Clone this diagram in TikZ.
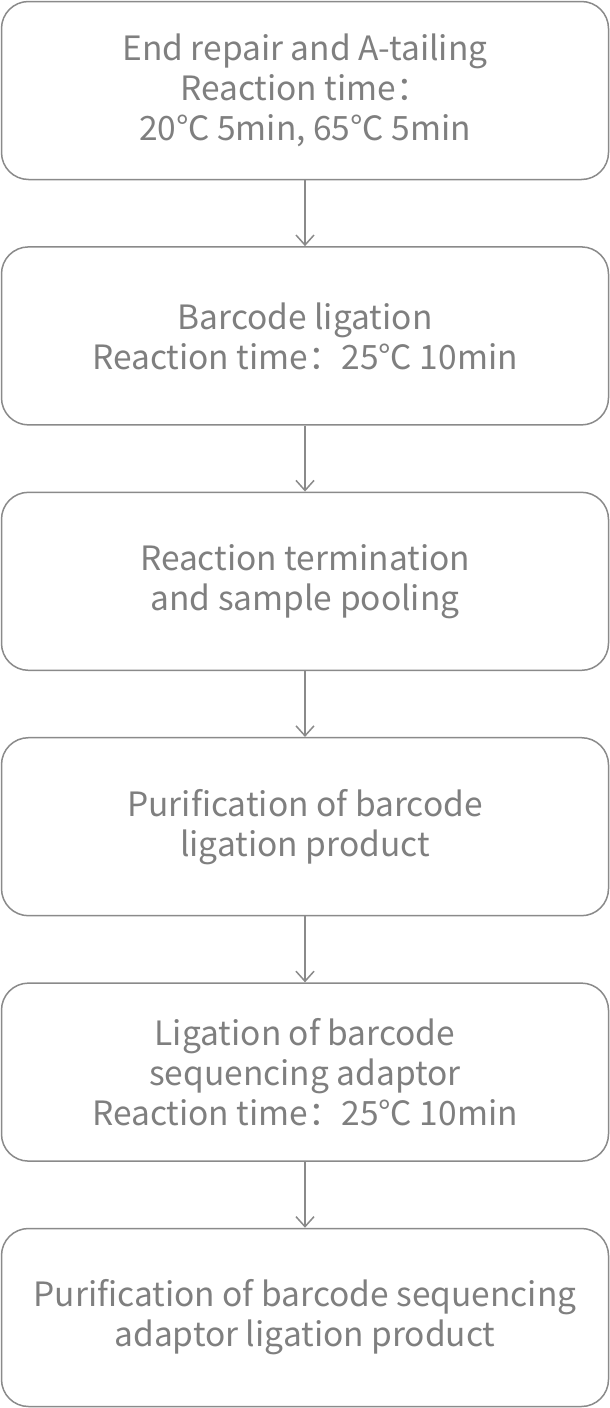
\documentclass[tikz,border=0pt]{standalone}
\usepackage{fontspec}
\setmainfont{Noto Sans CJK SC}
\usetikzlibrary{arrows.meta}
\definecolor{txtgray}{HTML}{7F7F7F}
\definecolor{linegray}{HTML}{8A8A8A}
\begin{document}
\begin{tikzpicture}[x=1pt,y=1pt,
  stepbox/.style={draw=linegray, line width=1.5pt, rounded corners=27pt,
    minimum width=607pt, minimum height=178pt, text=txtgray,
    align=center, inner sep=0pt,
    font=\fontsize{33.5}{40}\selectfont},
  flow/.style={draw=linegray, line width=1.5pt,
    -{Straight Barb[length=10pt,width=18pt,line width=1.5pt]}}]
\useasboundingbox (0,0) rectangle (610,-1408);
\node[stepbox] (b1) at (305,-90.5) {End repair and A-tailing\\Reaction time：\\20℃ 5min, 65℃ 5min};
\node[stepbox] (b2) at (305,-335.9) {Barcode ligation\\Reaction time：25℃ 10min};
\node[stepbox] (b3) at (305,-581.3) {Reaction termination\\and sample pooling};
\node[stepbox] (b4) at (305,-826.7) {Purification of barcode\\ligation product};
\node[stepbox] (b5) at (305,-1072.1) {Ligation of barcode\\sequencing adaptor\\Reaction time：25℃ 10min};
\node[stepbox] (b6) at (305,-1317.5) {Purification of barcode sequencing\\adaptor ligation product};
\draw[flow] (b1.south) -- (b2.north);
\draw[flow] (b2.south) -- (b3.north);
\draw[flow] (b3.south) -- (b4.north);
\draw[flow] (b4.south) -- (b5.north);
\draw[flow] (b5.south) -- (b6.north);
\end{tikzpicture}
\end{document}
